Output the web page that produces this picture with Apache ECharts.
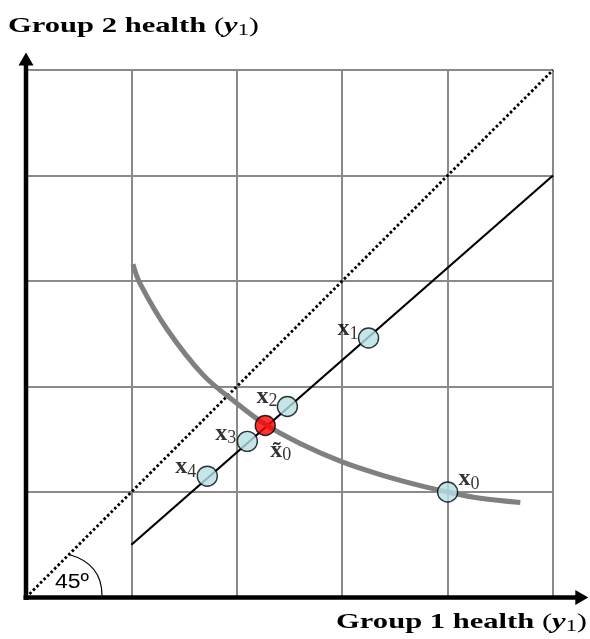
<!DOCTYPE html>
<html>
<head>
<meta charset="utf-8">
<script src="https://cdn.jsdelivr.net/npm/echarts@6/dist/echarts.min.js"></script>
<style>html,body{margin:0;padding:0;background:#fff;}#c{width:590px;height:639px;}</style>
</head>
<body>
<div id="c"></div>
<script>
// ---- data ----
const gridTicks = [0, 1, 2, 3, 4, 5];
const axisEnds = [5.335, 5.165];           // x / y extent of the arrowed axes (data units)
const diagX = [0, 5];
const diagY = [0, 5];
const lineX = [1, 5];
const lineY = [0.5, 4];
const curveX = [1.015, 1.08, 1.34, 1.68, 2.0, 2.27, 2.6, 3.0, 3.36, 3.74, 4.0, 4.31, 4.69];
const curveY = [3.16, 2.98, 2.54, 2.11, 1.84, 1.64, 1.46, 1.285, 1.165, 1.06, 1.0, 0.94, 0.9];
const pointX = [3.25, 2.48, 2.27, 2.10, 1.72, 4.0];
const pointY = [2.46, 1.81, 1.63, 1.48, 1.15, 1.0];
const pointMain = ['x', 'x', 'x\u0303', 'x', 'x', 'x'];
const pointSub = ['1', '2', '0', '3', '4', '0'];
const pointRed = [false, false, true, false, false, false];
const yTitle = 'Group 2 health ';
const xTitle = 'Group 1 health ';
const titleVar = 'y';
const titleSub = '1';
const angleLabel = '45º';

const chart = echarts.init(document.getElementById('c'), null, {renderer: 'canvas'});

const rich = {
  mx: {fontFamily: 'Liberation Serif', fontWeight: 'bold', fontSize: 24, color: '#000', lineHeight: 26},
  sb: {fontFamily: 'Liberation Serif', fontWeight: 'normal', fontSize: 18, color: '#000', padding: [10, 0, 0, 0], lineHeight: 26}
};
// label placement per point: [align, dx, dy]
const labelPlace = [
  ['right', -10, -9],
  ['right', -10, -10],
  ['left', 5, 25],
  ['right', -11, -8],
  ['right', -11, -9],
  ['left', 11, -13]
];

const pts = pointX.map((x, i) => ({
  value: [x, pointY[i]],
  itemStyle: {color: pointRed[i] ? '#ff0000' : '#b7e0e3', borderColor: '#000', borderWidth: 1.4},
  label: {
    show: true,
    position: 'inside',
    align: labelPlace[i][0],
    verticalAlign: 'middle',
    offset: [labelPlace[i][1], labelPlace[i][2]],
    formatter: '{mx|' + pointMain[i] + '}{sb|' + pointSub[i] + '}',
    rich: rich
  }
}));

chart.setOption({
  animation: false,
  backgroundColor: '#fff',
  grid: {left: 26, right: 37, top: 70, bottom: 41.5},
  xAxis: {
    type: 'value', min: gridTicks[0], max: gridTicks[gridTicks.length - 1], interval: 1,
    axisLine: {show: false}, axisTick: {show: false}, axisLabel: {show: false},
    splitLine: {show: true, lineStyle: {color: '#8a8a8a', width: 2}}
  },
  yAxis: {
    type: 'value', min: gridTicks[0], max: gridTicks[gridTicks.length - 1], interval: 1,
    axisLine: {show: false}, axisTick: {show: false}, axisLabel: {show: false},
    splitLine: {show: true, lineStyle: {color: '#8a8a8a', width: 2}}
  },
  series: [
    {
      type: 'line', data: diagX.map((x, i) => [x, diagY[i]]), symbol: 'none', clip: false,
      lineStyle: {color: '#000', width: 2.8, type: [2.6, 2.4]}, z: 3
    },
    {
      type: 'line', data: lineX.map((x, i) => [x, lineY[i]]), symbol: 'none',
      lineStyle: {color: '#000', width: 2.2}, z: 3
    },
    {
      type: 'line', data: curveX.map((x, i) => [x, curveY[i]]), symbol: 'none', smooth: 0.35,
      lineStyle: {color: '#808080', width: 5}, z: 4
    },
    {
      type: 'scatter', data: pts, symbol: 'circle', symbolSize: 20, z: 5
    }
  ]
});

const o = chart.convertToPixel({gridIndex: 0}, [0, 0]);
const xt = chart.convertToPixel({gridIndex: 0}, [axisEnds[0], 0]);
const yt = chart.convertToPixel({gridIndex: 0}, [0, axisEnds[1]]);
const titleRich = {
  b: {fontFamily: 'Liberation Serif', fontWeight: 'bold', fontSize: 22, color: '#000', lineHeight: 26},
  p: {fontFamily: 'Liberation Serif', fontSize: 22, color: '#000', lineHeight: 26},
  i: {fontFamily: 'Liberation Serif', fontWeight: 'bold', fontStyle: 'italic', fontSize: 22, color: '#000', lineHeight: 26},
  s: {fontFamily: 'Liberation Serif', fontSize: 16, color: '#000', padding: [9, 0, 0, 0], lineHeight: 26}
};
const titleText = (t) => '{b|' + t + '}{p|(}{i|' + titleVar + '}{s|' + titleSub + '}{p|)}';
const AW = 7.5, AL = 13, LW = 4.5;
chart.setOption({
  graphic: [
    {
      type: 'line', z: 50,
      shape: {x1: o[0] - 2.5, y1: o[1], x2: xt[0] - AL + 1, y2: o[1]},
      style: {stroke: '#000', lineWidth: LW}
    },
    {
      type: 'polygon', z: 50,
      shape: {points: [[xt[0], o[1]], [xt[0] - AL, o[1] - AW], [xt[0] - AL, o[1] + AW]]},
      style: {fill: '#000'}
    },
    {
      type: 'line', z: 50,
      shape: {x1: o[0], y1: o[1] + 2.5, x2: o[0], y2: yt[1] + AL - 1},
      style: {stroke: '#000', lineWidth: LW}
    },
    {
      type: 'polygon', z: 50,
      shape: {points: [[o[0], yt[1]], [o[0] - AW, yt[1] + AL], [o[0] + AW, yt[1] + AL]]},
      style: {fill: '#000'}
    },
    {
      type: 'text', x: 8, y: 13, scaleX: 1.39, scaleY: 1, z: 50,
      style: {x: 0, y: 0, text: titleText(yTitle), rich: titleRich, align: 'left', verticalAlign: 'top'}
    },
    {
      type: 'text', x: 587, y: 609, scaleX: 1.39, scaleY: 1, z: 50,
      style: {x: 0, y: 0, text: titleText(xTitle), rich: titleRich, align: 'right', verticalAlign: 'top'}
    },
    {
      type: 'text', x: o[0] + 29, y: o[1] - 25, scaleX: 1.15, scaleY: 1, z: 50,
      style: {x: 0, y: 0, text: angleLabel, font: '20px "Liberation Sans"', fill: '#000'}
    },
    {
      type: 'bezierCurve', z: 50,
      shape: {x1: o[0] + 43, y1: o[1] - 43, cpx1: o[0] + 68, cpy1: o[1] - 36, cpx2: o[0] + 76, cpy2: o[1] - 20, x2: o[0] + 76, y2: o[1] - 2},
      style: {stroke: '#000', lineWidth: 1.2, fill: null}
    }
  ]
});
</script>
</body>
</html>
